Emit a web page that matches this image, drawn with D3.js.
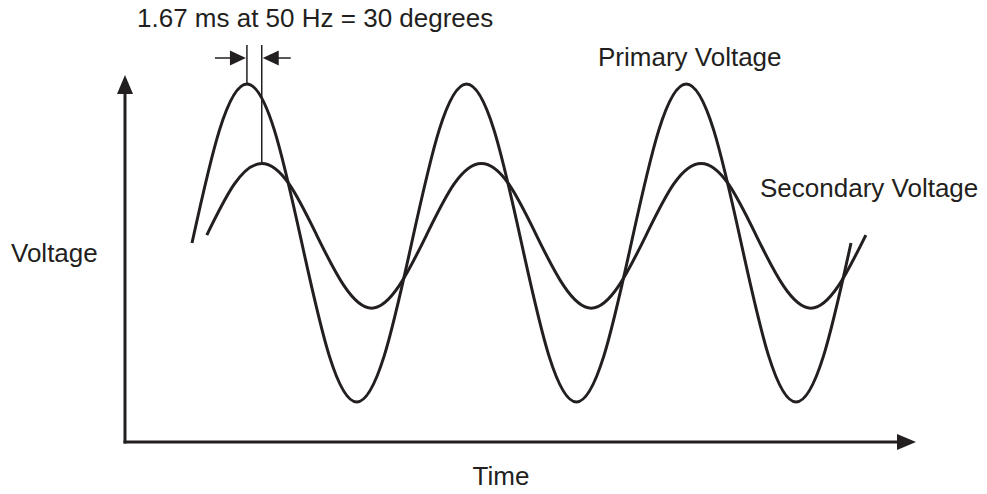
<!DOCTYPE html>
<html>
<head>
<meta charset="utf-8">
<script src="https://cdn.jsdelivr.net/npm/d3@7"></script>
<style>
  body { margin: 0; background: #fff; }
  svg text { font-family: "Liberation Sans", Arial, Helvetica, sans-serif; font-size: 26px; fill: #231f20; }
</style>
</head>
<body>
<div id="chart-wrapper"></div>
<script>
// time in ms (50 Hz -> 20 ms period), sampled every eighth of a cycle
var primary_time = [0, 2.5, 5, 7.5, 10, 12.5, 15, 17.5, 20, 22.5, 25, 27.5, 30,
    32.5, 35, 37.5, 40, 42.5, 45, 47.5, 50, 52.5, 55, 57.5, 60];
var primary_volts = [0, 0.71, 1, 0.71, 0, -0.71, -1, -0.71, 0, 0.71, 1, 0.71, 0,
    -0.71, -1, -0.71, 0, 0.71, 1, 0.71, 0, -0.71, -1, -0.71, 0];

// secondary lags the primary
var secondary_time = [1.35, 3.85, 6.35, 8.85, 11.35, 13.85, 16.35, 18.85, 21.35,
    23.85, 26.35, 28.85, 31.35, 33.85, 36.35, 38.85, 41.35, 43.85, 46.35, 48.85,
    51.35, 53.85, 56.35, 58.85, 61.35];
var secondary_volts = [0.05, 0.37, 0.5, 0.37, 0.05, -0.27, -0.41, -0.27, 0.05,
    0.37, 0.5, 0.37, 0.05, -0.27, -0.41, -0.27, 0.05, 0.37, 0.5, 0.37, 0.05,
    -0.27, -0.41, -0.27, 0.05];

var primary_peak_ms = 5;
var secondary_peak_ms = 6.35;
var label_lag = '1.67 ms at 50 Hz = 30 degrees';

var total_width = 987, total_height = 494;
var ink = '#231f20';

var svg = d3.select('#chart-wrapper').append('svg')
    .attr('width', total_width)
    .attr('height', total_height);

var scale_x = d3.scaleLinear().domain([0, 60]).range([192, 851]);
var scale_y = d3.scaleLinear().domain([-1, 1]).range([402, 84]);

var axis_x0 = 125, axis_y0 = 442;

// axes with arrow heads
svg.append('line')
    .attr('x1', axis_x0).attr('y1', axis_y0 + 1.5)
    .attr('x2', axis_x0).attr('y2', 90)
    .attr('stroke', ink).attr('stroke-width', 3);
svg.append('path')
    .attr('d', 'M' + axis_x0 + ',75 L' + (axis_x0 - 8) + ',94 L' + (axis_x0 + 8) + ',94 Z')
    .attr('fill', ink);
svg.append('line')
    .attr('x1', axis_x0 - 1.5).attr('y1', axis_y0)
    .attr('x2', 900).attr('y2', axis_y0)
    .attr('stroke', ink).attr('stroke-width', 3);
svg.append('path')
    .attr('d', 'M916,' + axis_y0 + ' L897,' + (axis_y0 - 8) + ' L897,' + (axis_y0 + 8) + ' Z')
    .attr('fill', ink);

var line = d3.line()
    .x(function(d) { return scale_x(d[0]); })
    .y(function(d) { return scale_y(d[1]); })
    .curve(d3.curveNatural);

var primary = primary_time.map(function(t, i) { return [t, primary_volts[i]]; });
var secondary = secondary_time.map(function(t, i) { return [t, secondary_volts[i]]; });

svg.append('path').datum(primary)
    .attr('d', line)
    .attr('fill', 'none').attr('stroke', ink).attr('stroke-width', 3);
svg.append('path').datum(secondary)
    .attr('d', line)
    .attr('fill', 'none').attr('stroke', ink).attr('stroke-width', 3);

// lag markers
var px1 = scale_x(primary_peak_ms), px2 = scale_x(secondary_peak_ms);
var arrow_y = 58;
svg.append('line')
    .attr('x1', px1).attr('y1', 45).attr('x2', px1).attr('y2', scale_y(1))
    .attr('stroke', ink).attr('stroke-width', 1.5);
svg.append('line')
    .attr('x1', px2).attr('y1', 45).attr('x2', px2).attr('y2', scale_y(0.5))
    .attr('stroke', ink).attr('stroke-width', 1.5);

svg.append('line')
    .attr('x1', px1 - 32).attr('y1', arrow_y).attr('x2', px1 - 10).attr('y2', arrow_y)
    .attr('stroke', ink).attr('stroke-width', 1.5);
svg.append('path')
    .attr('d', 'M' + (px1 - 1) + ',' + arrow_y + ' L' + (px1 - 17) + ',' + (arrow_y - 7.5) +
        ' L' + (px1 - 17) + ',' + (arrow_y + 7.5) + ' Z')
    .attr('fill', ink);
svg.append('line')
    .attr('x1', px2 + 10).attr('y1', arrow_y).attr('x2', px2 + 29).attr('y2', arrow_y)
    .attr('stroke', ink).attr('stroke-width', 1.5);
svg.append('path')
    .attr('d', 'M' + (px2 + 1) + ',' + arrow_y + ' L' + (px2 + 17) + ',' + (arrow_y - 7.5) +
        ' L' + (px2 + 17) + ',' + (arrow_y + 7.5) + ' Z')
    .attr('fill', ink);

// texts
svg.append('text').attr('x', 137).attr('y', 27).text(label_lag);
svg.append('text').attr('x', 598).attr('y', 66).text('Primary Voltage');
svg.append('text').attr('x', 760).attr('y', 197).text('Secondary Voltage');
svg.append('text').attr('x', 11).attr('y', 262).text('Voltage');
svg.append('text').attr('x', 501).attr('y', 485).attr('text-anchor', 'middle').text('Time');
</script>
</body>
</html>
